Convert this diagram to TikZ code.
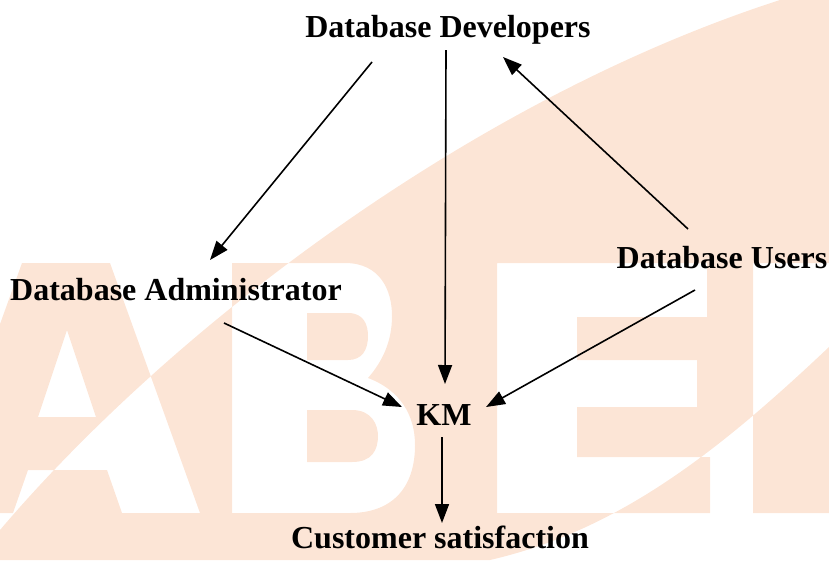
\documentclass[tikz,border=0pt]{standalone}
\usepackage{fontspec}
\setmainfont{Liberation Serif}
\usetikzlibrary{arrows.meta,calc}
\definecolor{peach}{RGB}{252,229,214}
\tikzset{
  lbl/.style={font=\fontsize{32}{36}\selectfont\bfseries, inner sep=0pt, outer sep=0pt, anchor=base},
  arr/.style={line width=1.6pt, -{Triangle[length=19pt,width=14pt]}},
  wm/.style={fill=peach, even odd rule, draw=none}
}
\begin{document}
\begin{tikzpicture}[x=1pt,y=-1pt]
\useasboundingbox (0,0) rectangle (829,560);
\clip (0,0) rectangle (829,560);
% watermark: band XOR letters
\path[wm]
  (0,530) .. controls (170,330) and (470,100) .. (780,0) -- (829,0) -- (829,347)
     .. controls (720,450) and (620,530) .. (490,560) -- (0,560) -- cycle
  % A
  (22,263) -- (110,263) -- (200,513) -- (122,513) -- (107,470) -- (28,470) -- (13,513) -- (-68,513) -- cycle
  (67,330) -- (96,417) -- (38,417) -- cycle
  % B
  (232,263) -- (345,263) .. controls (380,263) and (392,290) .. (392,316)
     .. controls (392,342) and (382,362) .. (368,378)
     .. controls (400,390) and (415,415) .. (415,445)
     .. controls (415,490) and (390,513) .. (350,513) -- (232,513) -- cycle
  (307,313) -- (348,313) .. controls (364,313) and (368,325) .. (368,336)
     .. controls (368,350) and (362,360) .. (348,360) -- (307,360) -- cycle
  (307,410) -- (352,410) .. controls (372,410) and (378,425) .. (378,436)
     .. controls (378,450) and (372,462) .. (352,462) -- (307,462) -- cycle
  % E
  (497,263) -- (707,263) -- (707,317) -- (577,317) -- (577,360) -- (697,360) -- (697,407)
     -- (577,407) -- (577,457) -- (710,457) -- (710,513) -- (497,513) -- cycle
  % fourth letter stem
  (753,263) -- (840,263) -- (840,513) -- (753,513) -- cycle;
% labels
\node[lbl] (dd) at (448,37) {Database Developers};
\node[lbl] (da) at (176,300) {Database Administrator};
\node[lbl] (du) at (722,268) {Database Users};
\node[lbl] (km) at (444,425) {KM};
\node[lbl] (cs) at (440,548) {Customer satisfaction};
% connectors
\draw[arr] ($(dd.base)+(-76,25)$) -- ($(da.base)+(34,-40)$);
\draw[arr] ($(dd.base)+(-2,13)$) -- ($(km.base)+(1,-41)$);
\draw[arr] ($(du.base)+(-34,-39)$) -- ($(dd.base)+(55,20)$);
\draw[arr] ($(da.base)+(48,23)$) -- ($(km.base)+(-42,-18)$);
\draw[arr] ($(du.base)+(-27,22)$) -- ($(km.base)+(42,-18)$);
\draw[arr] ($(km.base)+(-2,12)$) -- ($(cs.base)+(2,-25)$);
\end{tikzpicture}
\end{document}
